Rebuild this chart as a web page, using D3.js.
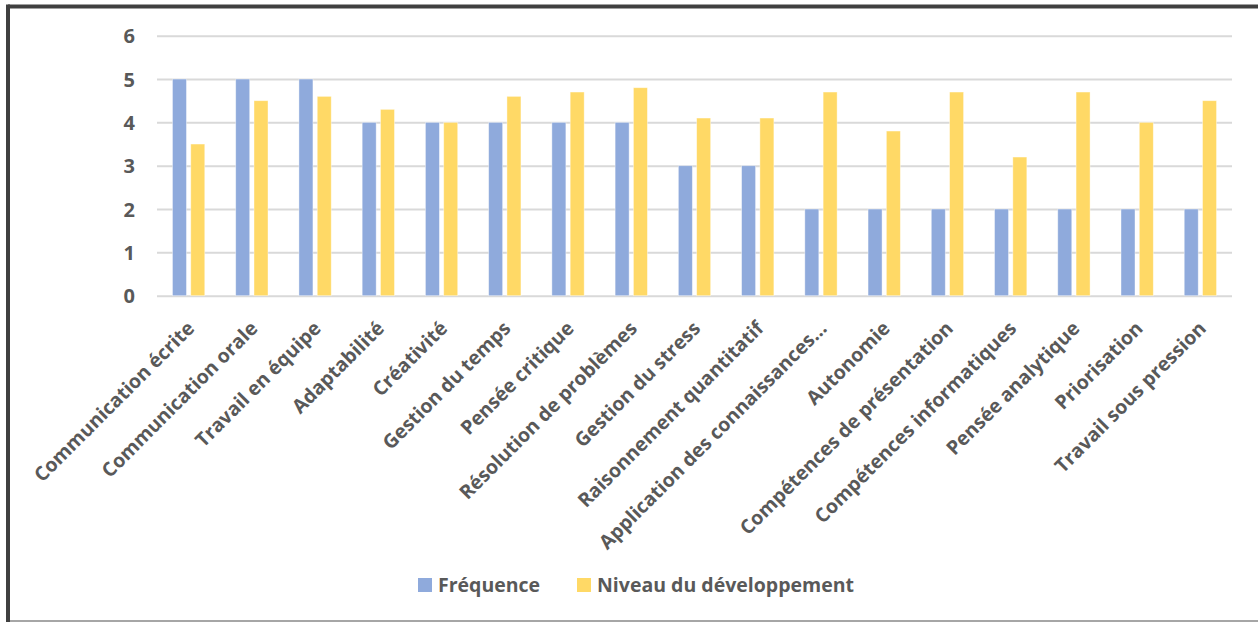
<!DOCTYPE html>
<html>
<head>
<meta charset="utf-8">
<script src="https://cdn.jsdelivr.net/npm/d3@7/dist/d3.min.js"></script>
<style>
  html, body { margin: 0; padding: 0; background: #ffffff; }
  svg { display: block; }
  text { font-family: "Open Sans", "Noto Sans", sans-serif; font-weight: 700; fill: #595959; }
</style>
</head>
<body>
<script>
// Compétences : fréquence de citation et niveau de développement
const categories = [
  "Communication écrite", "Communication orale", "Travail en équipe", "Adaptabilité",
  "Créativité", "Gestion du temps", "Pensée critique", "Résolution de problèmes",
  "Gestion du stress", "Raisonnement quantitatif", "Application des connaissances…",
  "Autonomie", "Compétences de présentation", "Compétences informatiques",
  "Pensée analytique", "Priorisation", "Travail sous pression"
];
const frequence = [5, 5, 5, 4, 4, 4, 4, 4, 3, 3, 2, 2, 2, 2, 2, 2, 2];
const niveau = [3.5, 4.5, 4.6, 4.3, 4.0, 4.6, 4.7, 4.8, 4.1, 4.1, 4.7, 3.8, 4.7, 3.2, 4.7, 4.0, 4.5];
const seriesNames = ["Fréquence", "Niveau du développement"];
const yTicks = [0, 1, 2, 3, 4, 5, 6];

const W = 1258, H = 622;
const colors = ["#8faadc", "#ffd966"];

const svg = d3.select("body").append("svg").attr("width", W).attr("height", H);

// outer frame of the chart
svg.append("rect").attr("x", 0).attr("y", 0).attr("width", W).attr("height", H).attr("fill", "#fff");
svg.append("line").attr("x1", 8).attr("x2", W).attr("y1", 6.5).attr("y2", 6.5)
  .attr("stroke", "#404040").attr("stroke-width", 4);
svg.append("line").attr("x1", 8).attr("x2", 8).attr("y1", 4.5).attr("y2", H)
  .attr("stroke", "#404040").attr("stroke-width", 4);
svg.append("line").attr("x1", 10).attr("x2", W).attr("y1", 621).attr("y2", 621)
  .attr("stroke", "#a6a6a6").attr("stroke-width", 2);

const plot = { left: 157, right: 1232, top: 35.7, bottom: 295.7 };

const x = d3.scaleBand().domain(categories).range([plot.left, plot.right]).paddingInner(0).paddingOuter(0);
const y = d3.scaleLinear().domain([0, 6]).range([plot.bottom, plot.top]);

const barW = 14, barGap = 4.3;

// gridlines and value labels
const yAxis = d3.axisLeft(y).tickValues(yTicks).tickSize(-(plot.right - plot.left)).tickPadding(22).tickFormat(d3.format("d"));
const gy = svg.append("g").attr("transform", `translate(${plot.left},0)`).call(yAxis);
gy.select(".domain").remove();
gy.selectAll(".tick line").attr("stroke", "#d9d9d9").attr("stroke-width", 2);
gy.selectAll(".tick text").style("font-size", "20px").attr("fill", "#595959").attr("dy", "0.36em");

// bars
const groupW = barW * 2 + barGap;
const data = categories.map((c, i) => ({ c, vals: [frequence[i], niveau[i]] }));
const groups = svg.append("g").selectAll("g").data(data).join("g")
  .attr("transform", d => `translate(${x(d.c) + x.bandwidth() / 2 - groupW / 2},0)`);
groups.selectAll("rect").data(d => d.vals.map((v, k) => ({ v, k }))).join("rect")
  .attr("x", d => d.k * (barW + barGap))
  .attr("y", d => y(d.v))
  .attr("width", barW)
  .attr("height", d => y(0) - y(d.v))
  .attr("fill", d => colors[d.k])
  .attr("stroke", "#ffffff").attr("stroke-opacity", 0.5).attr("stroke-width", 0.8);

// category labels
const xAxis = d3.axisBottom(x).tickSize(0).tickPadding(0);
const gx = svg.append("g").attr("transform", `translate(0,${plot.bottom})`).call(xAxis);
gx.select(".domain").remove();
gx.selectAll(".tick text")
  .style("font-size", "19.5px")
  .attr("fill", "#595959")
  .attr("text-anchor", "end")
  .attr("dy", 0)
  .attr("transform", "translate(7,34) rotate(-45)");

// legend
const legend = svg.append("g").attr("transform", "translate(418,578)");
const legX = [0, 159];
seriesNames.forEach((n, k) => {
  const g = legend.append("g").attr("transform", `translate(${legX[k]},0)`);
  g.append("rect").attr("width", 14).attr("height", 14).attr("fill", colors[k]);
  g.append("text").attr("x", 20).attr("y", 14).style("font-size", "19.5px").text(n);
});
</script>
</body>
</html>
